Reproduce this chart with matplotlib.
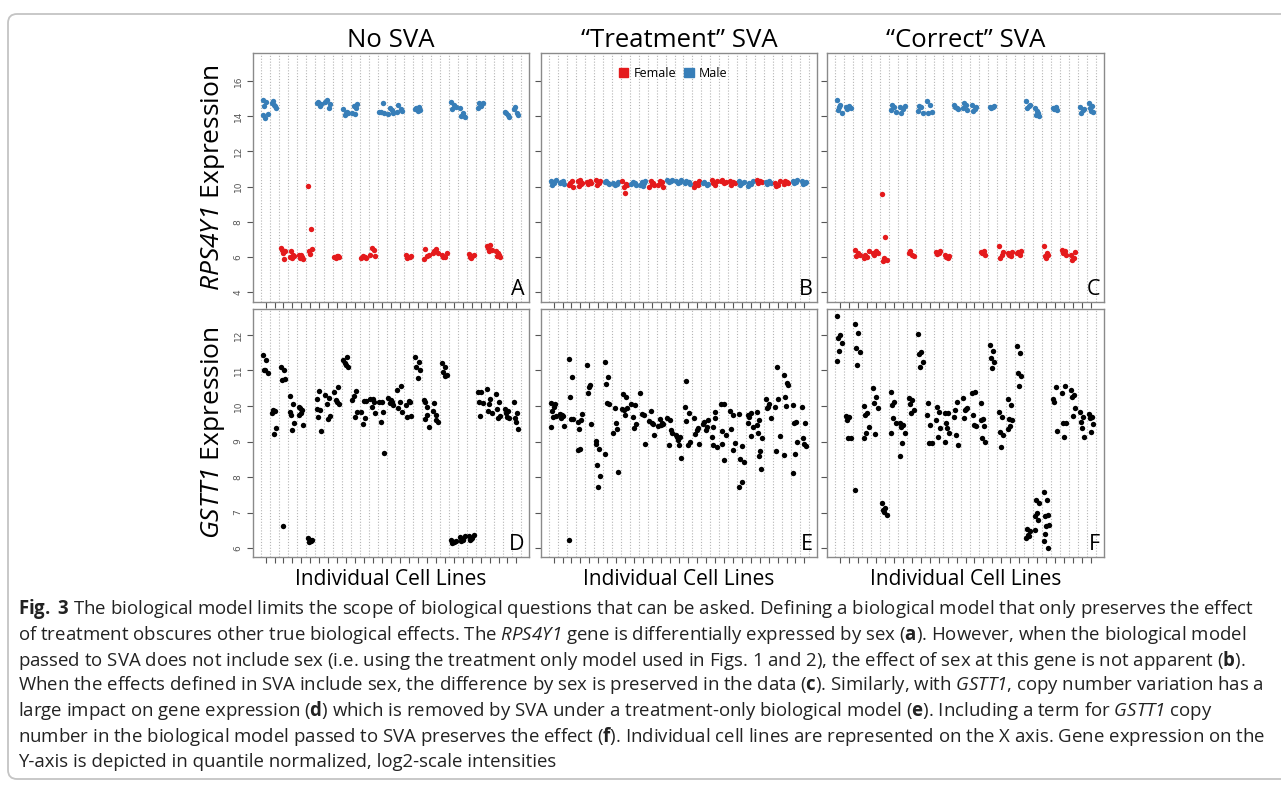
import numpy as np
import matplotlib
matplotlib.use("Agg")
import matplotlib.pyplot as plt
from matplotlib import font_manager
from matplotlib.patches import FancyBboxPatch, Patch

W, H = 1281, 785

# caption font: a narrow face if the system has one
try:
    font_manager.findfont("Liberation Sans Narrow", fallback_to_default=False)
    CAP_FONT = "Liberation Sans Narrow"
except Exception:
    CAP_FONT = "Open Sans"

plt.rcParams['font.family'] = ['Open Sans', 'DejaVu Sans']
plt.rcParams['mathtext.fontset'] = 'custom'
plt.rcParams['mathtext.rm'] = CAP_FONT
plt.rcParams['mathtext.it'] = CAP_FONT + ':italic'
plt.rcParams['mathtext.bf'] = CAP_FONT + ':bold'
# \mathsf is used for italic gene names (keeps digits italic too)
plt.rcParams['mathtext.sf'] = CAP_FONT + ':italic'

RED = "#E41A1C"
BLUE = "#377EB8"

# sex of each of the 29 cell lines (same order in all panels)
sex = ["M", "M", "F", "F", "F", "F", "M", "M", "F", "M", "M", "F", "F", "M", "M",
       "M", "F", "M", "F", "F", "F", "M", "M", "F", "M", "F", "F", "M", "M"]

# RPS4Y1 expression, no SVA
rps4y1_none = [
    [14.92, 14.83, 14.58, 14.13, 13.88, 14.07], [14.73, 14.58, 14.88, 14.45, 14.64],
    [6.50, 5.87, 6.40, 6.31, 6.21], [5.99, 6.12, 6.31, 6.03, 5.93],
    [6.12, 5.99, 5.93, 5.87, 6.12], [10.04, 7.60, 6.31, 6.44, 6.18],
    [14.73, 14.58, 14.83, 14.70], [14.83, 14.45, 14.92, 14.70],
    [5.99, 6.03, 5.93, 5.99, 6.06], [14.39, 14.26, 14.07, 14.16, 14.20],
    [14.20, 14.45, 14.58, 14.70, 14.13], [5.93, 5.99, 6.03, 5.93],
    [6.12, 6.40, 6.50, 6.03], [14.26, 14.73, 14.26, 14.20],
    [14.13, 14.35, 14.45, 14.20], [14.26, 14.39, 14.64, 14.32],
    [6.12, 5.99, 5.93, 6.03], [14.39, 14.50, 14.45, 14.35, 14.32],
    [5.87, 6.03, 6.44, 6.12], [6.21, 6.44, 6.31, 6.21],
    [6.12, 5.99, 5.99, 6.21], [14.83, 14.64, 14.39, 14.55],
    [14.45, 14.16, 14.01, 13.94, 14.10], [6.18, 6.03, 5.99, 6.10, 5.93],
    [14.45, 14.58, 14.77, 14.73], [6.59, 6.69, 6.50, 6.40, 6.35],
    [6.31, 6.12, 6.03, 5.99, 6.21], [14.26, 14.07, 14.16, 13.98],
    [14.39, 14.16, 14.50, 14.07],
]

# RPS4Y1 expression, "Treatment" SVA
rps4y1_treat = [
    [10.30, 10.20, 10.10, 10.35, 10.25], [10.20, 10.30, 10.25, 10.15],
    [10.10, 10.30, 10.20, 10.00], [10.30, 10.15, 10.05, 10.20, 10.35],
    [10.25, 10.30, 10.15, 10.20], [10.40, 10.20, 10.10, 10.30],
    [10.25, 10.20, 10.30, 10.15], [10.20, 10.15, 10.10, 10.25],
    [10.30, 10.15, 9.95, 10.10, 9.62], [10.15, 10.20, 10.25, 10.10],
    [10.10, 10.20, 10.25, 10.30, 10.05], [10.00, 10.20, 10.30, 10.10, 10.15],
    [10.10, 10.25, 10.30, 10.00, 10.20], [10.35, 10.30, 10.25, 10.40],
    [10.30, 10.25, 10.20, 10.35], [10.20, 10.25, 10.30, 10.15],
    [10.00, 10.10, 10.20, 10.30], [10.20, 10.10, 10.25, 10.15],
    [10.40, 10.10, 10.20, 10.30], [10.30, 10.20, 10.35, 10.25],
    [10.30, 10.25, 10.10, 10.20], [10.30, 10.20, 10.10, 10.25],
    [10.05, 10.15, 10.20, 10.30], [10.35, 10.30, 10.20, 10.25],
    [10.25, 10.30, 10.15, 10.20], [10.20, 10.10, 10.05, 10.30],
    [10.15, 10.25, 10.30, 10.20], [10.30, 10.25, 10.20, 10.35],
    [10.30, 10.20, 10.15, 10.25],
]

# RPS4Y1 expression, "Correct" SVA
rps4y1_correct = [
    [14.92, 14.64, 14.35, 14.20, 14.54], [14.50, 14.58, 14.39, 14.45],
    [6.40, 6.21, 6.03, 6.12], [5.93, 5.99, 6.12, 6.31],
    [6.21, 6.31, 6.12, 6.21], [9.58, 7.12, 5.74, 5.84, 5.93],
    [14.35, 14.50, 14.64, 14.26], [14.50, 14.39, 14.20, 14.58],
    [6.21, 6.12, 6.31, 6.03], [14.32, 14.50, 14.58, 14.20],
    [14.88, 14.64, 14.16, 14.26], [6.25, 6.21, 6.18, 6.31],
    [6.12, 5.93, 5.99, 6.06], [14.64, 14.45, 14.54, 14.39],
    [14.45, 14.64, 14.73, 14.35], [14.64, 14.39, 14.32, 14.50],
    [6.25, 6.31, 6.21, 6.12], [14.54, 14.50, 14.45, 14.58],
    [6.63, 6.12, 5.93, 6.25], [6.21, 6.03, 6.12, 6.25],
    [6.21, 6.12, 6.25, 6.31], [14.88, 14.58, 14.45, 14.64],
    [14.45, 14.20, 14.07, 14.01, 14.32], [6.63, 6.21, 6.03, 6.12, 5.93],
    [14.45, 14.50, 14.39, 14.35], [6.40, 6.31, 6.21, 6.12],
    [6.12, 5.93, 5.84, 6.25], [14.50, 14.35, 14.16, 14.39],
    [14.77, 14.58, 14.45, 14.26, 14.32],
]

# GSTT1 expression, no SVA
gstt1_none = [
    [11.44, 11.30, 11.01, 10.94, 11.00], [9.80, 9.85, 9.89, 9.37, 9.21],
    [11.10, 11.02, 10.72, 10.75, 6.63], [10.29, 10.06, 9.75, 9.51, 9.33, 9.84],
    [9.98, 9.89, 9.94, 9.47, 9.80, 9.75], [6.28, 6.19, 6.16, 6.23, 6.22],
    [9.91, 9.89, 9.70, 9.31, 10.41, 10.20], [10.31, 10.22, 10.06, 9.72, 9.64],
    [10.38, 10.53, 10.17, 10.06, 10.12], [11.30, 11.37, 11.20, 11.10, 11.15],
    [10.17, 10.41, 10.27, 9.84, 9.68], [9.84, 9.66, 9.50, 10.15, 10.15],
    [10.19, 10.10, 9.96, 9.80, 10.19], [10.10, 9.84, 9.56, 8.67, 10.12],
    [10.22, 10.12, 10.08, 10.03, 10.17], [10.45, 10.55, 9.94, 9.84, 10.12],
    [10.03, 10.12, 9.70, 9.72, 10.14], [11.39, 11.25, 11.11, 11.01, 10.78],
    [10.17, 9.98, 10.12, 9.40, 9.75, 9.64], [9.87, 9.75, 10.08, 9.56, 9.61],
    [11.20, 11.10, 10.97, 10.87, 10.84], [6.23, 6.18, 6.15, 6.21, 6.17],
    [6.30, 6.25, 6.20, 6.33, 6.22], [6.35, 6.28, 6.22, 6.38, 6.25],
    [10.40, 10.38, 10.12, 10.08, 9.72], [10.47, 10.20, 9.85, 9.80, 10.05],
    [10.35, 10.12, 9.92, 9.72, 9.65], [9.92, 9.85, 9.80, 9.65, 9.70],
    [10.12, 9.80, 9.65, 9.35, 9.55],
]

# GSTT1 expression, "Treatment" SVA
gstt1_treat = [
    [10.08, 9.98, 9.87, 9.72, 9.68, 9.40, 10.06], [9.78, 9.72, 9.66, 9.44, 9.75],
    [11.31, 10.81, 10.26, 9.64, 9.63, 6.23], [9.56, 9.61, 9.35, 9.78, 8.79, 8.76],
    [11.15, 10.59, 10.36, 9.48, 10.53], [8.93, 8.79, 8.35, 8.03, 7.72, 9.01],
    [11.25, 10.83, 10.61, 10.06, 10.08, 8.65], [9.23, 9.35, 9.94, 8.14, 9.51],
    [9.91, 10.26, 9.89, 9.94, 9.75, 10.33], [10.06, 10.02, 9.70, 9.50, 9.37],
    [10.36, 9.75, 9.78, 8.92], [9.59, 9.50, 9.86, 9.19, 9.53],
    [9.44, 9.51, 9.63, 9.50, 9.47], [9.66, 9.33, 8.89, 9.25, 9.61],
    [9.19, 9.12, 9.05, 8.53, 8.91, 9.14], [9.98, 9.81, 9.59, 9.00, 8.89, 10.71],
    [9.66, 9.37, 9.21, 8.93, 9.33], [9.50, 9.40, 9.56, 9.61, 9.33],
    [9.12, 9.84, 9.42, 8.86, 9.66, 8.89], [10.05, 10.06, 9.31, 9.19, 8.47, 8.92],
    [9.87, 9.75, 9.35, 8.95, 8.76], [9.78, 8.88, 8.50, 8.42, 7.85, 7.73],
    [9.75, 9.80, 9.68, 9.40, 9.16, 9.51], [9.47, 8.72, 9.23, 9.09, 8.60, 9.84, 8.22, 9.61],
    [10.19, 10.06, 9.94, 9.66, 9.98], [9.98, 10.19, 8.72, 9.16, 11.09],
    [10.87, 10.64, 10.25, 10.59, 10.00, 8.63], [10.03, 9.56, 9.53, 9.00, 8.65, 8.11],
    [9.98, 9.51, 9.09, 8.88, 8.92],
]

# GSTT1 expression, "Correct" SVA
gstt1_correct = [
    [12.53, 12.00, 11.90, 11.76, 11.56, 11.28], [9.72, 9.68, 9.61, 9.09, 9.10],
    [12.30, 12.06, 11.62, 11.53, 11.15, 7.64], [10.00, 9.80, 9.75, 9.42, 9.23, 9.09],
    [10.50, 10.24, 10.08, 9.94, 9.20], [7.27, 7.12, 7.06, 6.94, 7.03],
    [10.38, 10.12, 10.02, 9.51, 9.66, 9.23], [9.51, 9.47, 9.42, 9.25, 8.97, 8.58],
    [10.22, 10.17, 10.06, 9.89, 9.81], [12.02, 11.53, 11.46, 11.25, 11.11],
    [9.75, 9.47, 10.08, 8.95, 8.97], [9.61, 9.84, 9.98, 9.38, 9.12],
    [9.80, 9.80, 9.53, 9.25, 9.39, 8.99], [9.68, 10.11, 9.89, 8.91, 9.17],
    [10.22, 9.91, 9.66, 9.94, 9.89], [10.36, 10.38, 9.75, 9.44, 9.47],
    [10.08, 9.44, 9.09, 9.00, 9.64, 9.61], [11.72, 11.56, 11.34, 11.25, 11.06],
    [9.84, 9.70, 9.28, 9.19, 8.86], [10.20, 10.03, 9.64, 9.61, 9.44, 9.36],
    [11.69, 11.48, 10.92, 10.85, 10.55], [6.28, 6.33, 6.53, 6.47, 6.37],
    [6.89, 6.78, 7.36, 7.28, 7.00, 6.52], [7.59, 7.36, 6.89, 6.94, 6.61, 6.19, 6.00, 6.40, 6.66],
    [10.20, 10.53, 10.12, 9.31], [10.36, 10.55, 9.51, 9.53, 9.12],
    [10.45, 10.31, 10.24, 9.94, 9.72], [9.84, 9.70, 9.56, 9.12, 9.39],
    [9.78, 9.68, 9.67, 9.50, 9.28],
]

titles = ["No SVA", "\u201cTreatment\u201d SVA", "\u201cCorrect\u201d SVA"]
ylabels = [r"$\mathsf{RPS4Y1}$ Expression", r"$\mathsf{GSTT1}$ Expression"]
letters = ["A", "B", "C", "D", "E", "F"]

fig = plt.figure(figsize=(W / 100, H / 100), dpi=100)

# background frame + caption in pixel coordinates
bg = fig.add_axes([0, 0, 1, 1], zorder=-5)
bg.set_xlim(0, W)
bg.set_ylim(H, 0)
bg.axis("off")
bg.add_patch(FancyBboxPatch((8, 14), 1320, 765, boxstyle="round,pad=0,rounding_size=9",
                            ec="#c4c4c4", fc="white", lw=1.3))


def px_axes(left, top, right, bottom):
    return fig.add_axes([left / W, 1 - bottom / H, (right - left) / W, (bottom - top) / H])


def jitter(n):
    k = np.arange(n)
    return ((k * 0.618034) % 1 - 0.5) * 0.62


def draw_panel(ax, data, colored, ylim, yticks, labels, letter):
    n = len(data)
    for v in np.arange(n + 1) - 0.5:
        ax.axvline(v, color="#b5b5b5", lw=0.8, ls=(0, (1, 1.6)), zorder=1)
    for i, vals in enumerate(data):
        x = i + jitter(len(vals))
        if colored:
            col = RED if sex[i] == "F" else BLUE
        else:
            col = "black"
        ax.scatter(x, vals, s=15, c=col, linewidths=0, zorder=3)
    ax.set_xlim(-1.4, n + 0.4)
    ax.set_ylim(*ylim)
    ax.set_xticks(np.arange(n))
    ax.set_xticklabels([])
    ax.set_yticks(yticks)
    if labels:
        ax.set_yticklabels([str(t) for t in yticks], rotation=90, va="center",
                           fontsize=6.5, color="#555555", family="DejaVu Sans")
    else:
        ax.set_yticklabels([])
    ax.tick_params(axis="both", direction="out", length=4.5, width=0.8,
                   color="#555555", pad=3)
    for s in ax.spines.values():
        s.set_color("#8a8a8a")
        s.set_linewidth(1.0)
    ax.text(0.985, 0.008, letter, transform=ax.transAxes, ha="right", va="bottom",
            fontsize=15.5, color="black", zorder=5)


cols = [(253, 529), (541, 817), (827, 1104)]
top_row = (53, 302)
bot_row = (309, 557)

top_data = [rps4y1_none, rps4y1_treat, rps4y1_correct]
bot_data = [gstt1_none, gstt1_treat, gstt1_correct]

for j, (l, r) in enumerate(cols):
    ax = px_axes(l, top_row[0], r, top_row[1])
    draw_panel(ax, top_data[j], True, (3.43, 17.6), [4, 6, 8, 10, 12, 14, 16], j == 0, letters[j])
    ax.set_title(titles[j], fontsize=18.5, pad=2)
    if j == 1:
        handles = [Patch(color=RED, label="Female"), Patch(color=BLUE, label="Male")]
        ax.legend(handles=handles, loc="upper center", bbox_to_anchor=(0.48, 0.975), ncol=2,
                  frameon=False, fontsize=9, handlelength=0.75, handleheight=0.75,
                  handletextpad=0.45, columnspacing=0.6, borderaxespad=0.2)
    if j == 0:
        ax.set_ylabel(ylabels[0], fontsize=19, labelpad=5)

    ax2 = px_axes(l, bot_row[0], r, bot_row[1])
    draw_panel(ax2, bot_data[j], False, (5.75, 12.73), [6, 7, 8, 9, 10, 11, 12], j == 0, letters[j + 3])
    ax2.set_xlabel("Individual Cell Lines", fontsize=15, labelpad=1)
    if j == 0:
        ax2.set_ylabel(ylabels[1], fontsize=19, labelpad=5)

caption = [
    r"$\mathbf{Fig.}$ $\mathbf{3}$ The biological model limits the scope of biological questions that can be asked. Defining a biological model that only preserves the effect",
    r"of treatment obscures other true biological effects. The $\mathsf{RPS4Y1}$ gene is differentially expressed by sex ($\mathbf{a}$). However, when the biological model",
    r"passed to SVA does not include sex (i.e. using the treatment only model used in Figs. 1 and 2), the effect of sex at this gene is not apparent ($\mathbf{b}$).",
    r"When the effects defined in SVA include sex, the difference by sex is preserved in the data ($\mathbf{c}$). Similarly, with $\mathsf{GSTT1}$, copy number variation has a",
    r"large impact on gene expression ($\mathbf{d}$) which is removed by SVA under a treatment-only biological model ($\mathbf{e}$). Including a term for $\mathsf{GSTT1}$ copy",
    r"number in the biological model passed to SVA preserves the effect ($\mathbf{f}$). Individual cell lines are represented on the X axis. Gene expression on the",
    r"Y-axis is depicted in quantile normalized, log2-scale intensities",
]

texts = []
for k, line in enumerate(caption):
    t = bg.text(18, 609 + 25.5 * k, line, fontsize=10, ha="left", va="center",
                color="#222222", family=[CAP_FONT, "DejaVu Sans"])
    texts.append(t)

# scale caption so its widest lines span like the original
fig.canvas.draw()
rend = fig.canvas.get_renderer()
wpx = max(texts[k].get_window_extent(rend).width for k in (0, 3, 5))
size = 10 * 1248 / wpx
for t in texts:
    t.set_fontsize(size)

fig.savefig("out.png", dpi=100)
